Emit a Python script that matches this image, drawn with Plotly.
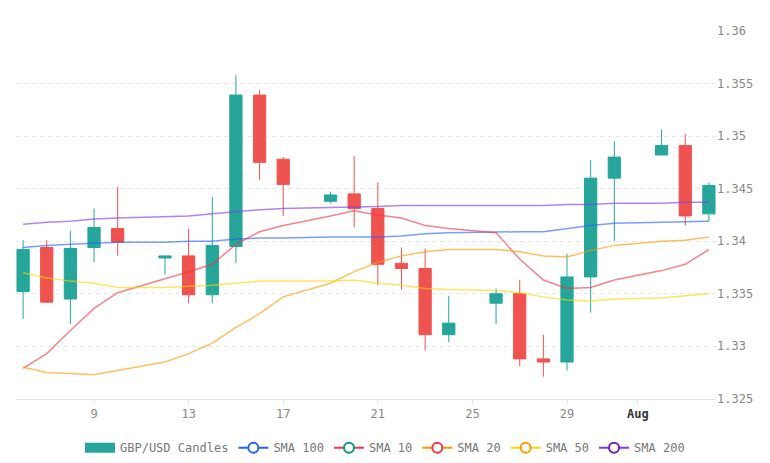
import plotly.graph_objects as go

# daily GBP/USD candles (no Sunday bars)
dates = ["2021-07-06", "2021-07-07", "2021-07-08", "2021-07-09", "2021-07-10",
         "2021-07-12", "2021-07-13", "2021-07-14", "2021-07-15", "2021-07-16",
         "2021-07-17", "2021-07-19", "2021-07-20", "2021-07-21", "2021-07-22",
         "2021-07-23", "2021-07-24", "2021-07-26", "2021-07-27", "2021-07-28",
         "2021-07-29", "2021-07-30", "2021-07-31", "2021-08-02", "2021-08-03",
         "2021-08-04"]

opens = [1.3352, 1.3394, 1.3345, 1.3394, 1.3412, 1.3384, 1.3386, 1.3349, 1.3395, 1.3539,
         1.3478, 1.3438, 1.3445, 1.3431, 1.3379, 1.3374, 1.3311, 1.3341, 1.3350, 1.3288,
         1.3285, 1.3366, 1.3460, 1.3482, 1.3491, 1.3426]
highs = [1.3401, 1.3401, 1.3410, 1.3431, 1.3452, 1.3386, 1.3412, 1.3442, 1.3558, 1.3544,
         1.3480, 1.3447, 1.3481, 1.3456, 1.3394, 1.3393, 1.3348, 1.3355, 1.3363, 1.3311,
         1.3388, 1.3477, 1.3495, 1.3506, 1.3502, 1.3456]
lows = [1.3326, 1.3341, 1.3321, 1.3380, 1.3386, 1.3368, 1.3341, 1.3341, 1.3379, 1.3458,
        1.3424, 1.3436, 1.3413, 1.3358, 1.3354, 1.3296, 1.3304, 1.3321, 1.3281, 1.3271,
        1.3277, 1.3332, 1.3400, 1.3482, 1.3415, 1.3419]
closes = [1.3392, 1.3342, 1.3393, 1.3413, 1.3399, 1.3386, 1.3349, 1.3396, 1.3539, 1.3475,
          1.3454, 1.3444, 1.3431, 1.3378, 1.3374, 1.3311, 1.3322, 1.3350, 1.3288, 1.3285,
          1.3366, 1.3460, 1.3480, 1.3491, 1.3424, 1.3453]

sma_10 = [1.3279, 1.3293, 1.3315, 1.3336, 1.3351, 1.3364, 1.3371, 1.3378, 1.3397, 1.3409,
          1.3415, 1.3424, 1.3429, 1.3425, 1.3422, 1.3415, 1.3412, 1.3408, 1.3383, 1.3363,
          1.3355, 1.3356, 1.3363, 1.3372, 1.3378, 1.3392]
sma_20 = [1.3280, 1.3275, 1.3274, 1.3273, 1.3277, 1.3285, 1.3293, 1.3303, 1.3318, 1.3331,
          1.3347, 1.3360, 1.3371, 1.3380, 1.3386, 1.3390, 1.3392, 1.3392, 1.3390, 1.3386,
          1.3385, 1.3391, 1.3396, 1.3400, 1.3401, 1.3404]
sma_50 = [1.3370, 1.3365, 1.3362, 1.3360, 1.3356, 1.3356, 1.3357, 1.3358, 1.3360, 1.3362,
          1.3362, 1.3362, 1.3363, 1.3360, 1.3358, 1.3355, 1.3354, 1.3353, 1.3351, 1.3347,
          1.3344, 1.3343, 1.3345, 1.3346, 1.3348, 1.3350]
sma_100 = [1.3394, 1.3396, 1.3397, 1.3398, 1.3399, 1.3399, 1.3400, 1.3400, 1.3402, 1.3403,
           1.3403, 1.3404, 1.3404, 1.3404, 1.3405, 1.3407, 1.3408, 1.3409, 1.3409, 1.3409,
           1.3412, 1.3415, 1.3417, 1.3418, 1.3418, 1.3419]
sma_200 = [1.3416, 1.3418, 1.3419, 1.3421, 1.3422, 1.3423, 1.3424, 1.3426, 1.3428, 1.3430,
           1.3431, 1.3432, 1.3432, 1.3433, 1.3434, 1.3434, 1.3434, 1.3434, 1.3434, 1.3434,
           1.3435, 1.3435, 1.3436, 1.3436, 1.3437, 1.3437]

x_tick_vals = ["2021-07-09", "2021-07-13", "2021-07-17", "2021-07-21",
               "2021-07-25", "2021-07-29", "2021-08-01"]
x_tick_text = ["9", "13", "17", "21", "25", "29",
               "<span style='color:#333'><b>Aug</b></span>"]
y_tick_vals = [1.325, 1.33, 1.335, 1.34, 1.345, 1.35, 1.355, 1.36]
y_tick_text = ["1.325", "1.33", "1.335", "1.34", "1.345", "1.35", "1.355", "1.36"]

UP = "#26a69a"
DOWN = "#ef5350"
FONT = "DejaVu Sans Mono"

# name, values, line colour, legend marker colour
smas = [
    ("SMA 100", sma_100, "#2962ff", "#2962ff"),
    ("SMA 10", sma_10, "#f23645", "#089981"),
    ("SMA 20", sma_20, "#ff9800", "#f23645"),
    ("SMA 50", sma_50, "#ffd600", "#ff9800"),
    ("SMA 200", sma_200, "#7e3af2", "#7b1fa2"),
]

fig = go.Figure()

fig.add_trace(go.Candlestick(
    x=dates, open=opens, high=highs, low=lows, close=closes,
    increasing=dict(line=dict(color=UP, width=1), fillcolor=UP),
    decreasing=dict(line=dict(color=DOWN, width=1), fillcolor=DOWN),
    showlegend=False, name="GBP/USD Candles"
))

for name, vals, col, mcol in smas:
    fig.add_trace(go.Scatter(
        x=dates, y=vals, mode="lines", name=name, showlegend=False,
        line=dict(color=col, width=1.5), opacity=0.62, hoverinfo="skip"
    ))

# legend-only entries
fig.add_trace(go.Scatter(
    x=[None], y=[None], mode="lines", name="GBP/USD Candles",
    line=dict(color=UP, width=16)
))
for name, vals, col, mcol in smas:
    fig.add_trace(go.Scatter(
        x=[None], y=[None], mode="lines+markers", name=name,
        line=dict(color=col, width=2),
        marker=dict(symbol="circle", size=10, color="white",
                    line=dict(color=mcol, width=2))
    ))

fig.update_layout(
    width=770, height=463,
    margin=dict(l=16, r=54, t=31, b=58),
    paper_bgcolor="white", plot_bgcolor="white",
    font=dict(family=FONT, size=12, color="#888"),
    boxgap=0.26, boxgroupgap=0.3,
    showlegend=True,
    legend=dict(orientation="h", xref="container", yref="container",
                x=0.5, xanchor="center", y=0.033, yanchor="middle",
                font=dict(family=FONT, size=12, color="#777"),
                itemwidth=30, tracegroupgap=0),
    xaxis=dict(
        type="date", range=["2021-07-05 16:48", "2021-08-04 07:12"],
        rangeslider=dict(visible=False),
        tickmode="array", tickvals=x_tick_vals, ticktext=x_tick_text,
        showgrid=False, showline=True, linecolor="#e3e3e3", linewidth=1,
        ticks="outside", ticklen=4, tickcolor="#e3e3e3",
        tickfont=dict(family=FONT, size=12, color="#888"),
        zeroline=False
    ),
    yaxis=dict(
        side="right", range=[1.325, 1.36],
        tickmode="array", tickvals=y_tick_vals, ticktext=y_tick_text,
        showgrid=True, gridcolor="#e6e6e6", griddash="4px,4px", gridwidth=1,
        showline=False, zeroline=False, ticks="",
        tickfont=dict(family=FONT, size=12, color="#888")
    ),
)

# the page's default 8px body margin would shift the chart
fig.write_html("out.html", config={"displayModeBar": False},
               post_script="document.body.style.margin = '0';")
